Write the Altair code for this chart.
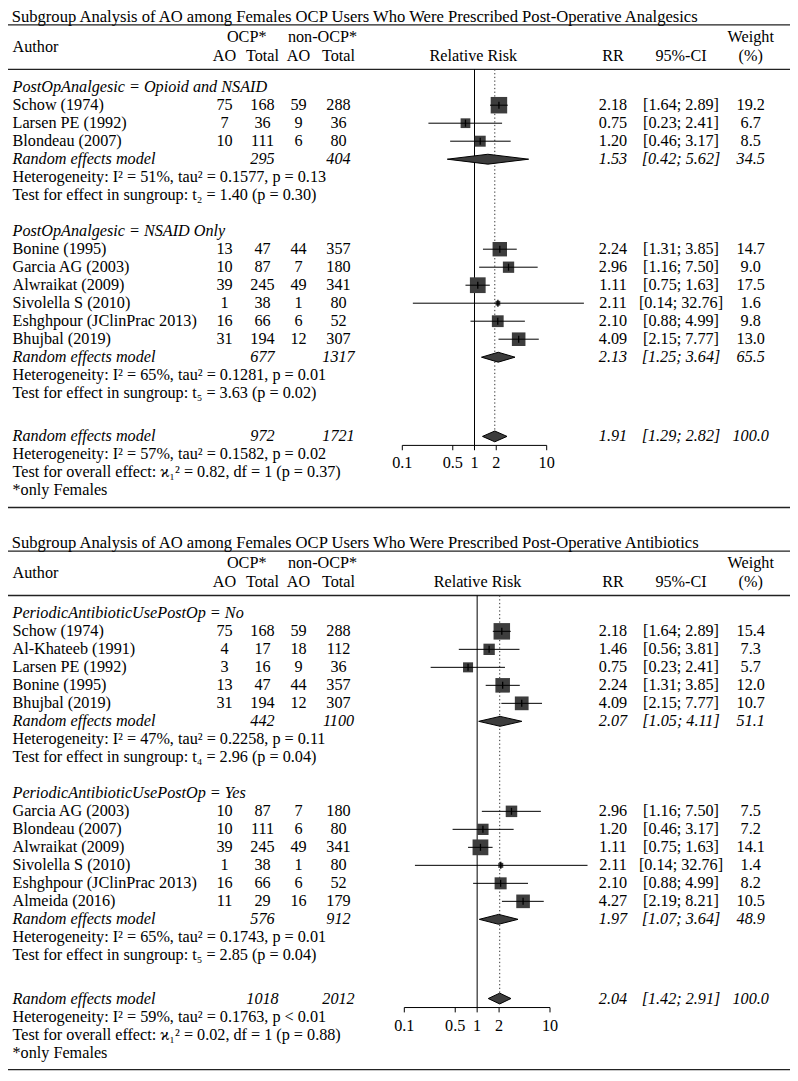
import altair as alt
import pandas as pd

FONT = "Liberation Serif"
FS = 16.2
TITLE_FS = 16.6

# ---------------- Panel 1 : post-operative analgesics ----------------
p1_title = "Subgroup Analysis of AO among Females OCP Users Who Were Prescribed Post-Operative Analgesics"
p1_subgroups = ["PostOpAnalgesic = Opioid and NSAID", "PostOpAnalgesic = NSAID Only"]
p1_authors = ["Schow (1974)", "Larsen PE (1992)", "Blondeau (2007)", "Bonine (1995)", "Garcia AG (2003)",
              "Alwraikat (2009)", "Sivolella S (2010)", "Eshghpour (JClinPrac 2013)", "Bhujbal (2019)"]
p1_group = [0, 0, 0, 1, 1, 1, 1, 1, 1]
p1_ocp_ao = [75, 7, 10, 13, 10, 39, 1, 16, 31]
p1_ocp_total = [168, 36, 111, 47, 87, 245, 38, 66, 194]
p1_non_ao = [59, 9, 6, 44, 7, 49, 1, 6, 12]
p1_non_total = [288, 36, 80, 357, 180, 341, 80, 52, 307]
p1_rr = [2.18, 0.75, 1.20, 2.24, 2.96, 1.11, 2.11, 2.10, 4.09]
p1_lo = [1.64, 0.23, 0.46, 1.31, 1.16, 0.75, 0.14, 0.88, 2.15]
p1_hi = [2.89, 2.41, 3.17, 3.85, 7.50, 1.63, 32.76, 4.99, 7.77]
p1_weight = [19.2, 6.7, 8.5, 14.7, 9.0, 17.5, 1.6, 9.8, 13.0]
p1_sub_ocp_total = [295, 677]
p1_sub_non_total = [404, 1317]
p1_sub_rr = [1.53, 2.13]
p1_sub_lo = [0.42, 1.25]
p1_sub_hi = [5.62, 3.64]
p1_sub_weight = [34.5, 65.5]
p1_sub_het = ["Heterogeneity: I² = 51%, tau² = 0.1577, p = 0.13",
              "Heterogeneity: I² = 65%, tau² = 0.1281, p = 0.01"]
p1_sub_test = ["Test for effect in sungroup: t₂ = 1.40 (p = 0.30)",
               "Test for effect in sungroup: t₅ = 3.63 (p = 0.02)"]
p1_overall = dict(ocp_total=972, non_total=1721, rr=1.91, lo=1.29, hi=2.82,
                  het="Heterogeneity: I² = 57%, tau² = 0.1582, p = 0.02",
                  test="Test for overall effect: ϰ₁² = 0.82, df = 1 (p = 0.37)")

# ---------------- Panel 2 : post-operative antibiotics ----------------
p2_title = "Subgroup Analysis of AO among Females OCP Users Who Were Prescribed Post-Operative Antibiotics"
p2_subgroups = ["PeriodicAntibioticUsePostOp = No", "PeriodicAntibioticUsePostOp = Yes"]
p2_authors = ["Schow (1974)", "Al-Khateeb (1991)", "Larsen PE (1992)", "Bonine (1995)", "Bhujbal (2019)",
              "Garcia AG (2003)", "Blondeau (2007)", "Alwraikat (2009)", "Sivolella S (2010)",
              "Eshghpour (JClinPrac 2013)", "Almeida (2016)"]
p2_group = [0, 0, 0, 0, 0, 1, 1, 1, 1, 1, 1]
p2_ocp_ao = [75, 4, 3, 13, 31, 10, 10, 39, 1, 16, 11]
p2_ocp_total = [168, 17, 16, 47, 194, 87, 111, 245, 38, 66, 29]
p2_non_ao = [59, 18, 9, 44, 12, 7, 6, 49, 1, 6, 16]
p2_non_total = [288, 112, 36, 357, 307, 180, 80, 341, 80, 52, 179]
p2_rr = [2.18, 1.46, 0.75, 2.24, 4.09, 2.96, 1.20, 1.11, 2.11, 2.10, 4.27]
p2_lo = [1.64, 0.56, 0.23, 1.31, 2.15, 1.16, 0.46, 0.75, 0.14, 0.88, 2.19]
p2_hi = [2.89, 3.81, 2.41, 3.85, 7.77, 7.50, 3.17, 1.63, 32.76, 4.99, 8.21]
p2_weight = [15.4, 7.3, 5.7, 12.0, 10.7, 7.5, 7.2, 14.1, 1.4, 8.2, 10.5]
p2_sub_ocp_total = [442, 576]
p2_sub_non_total = [1100, 912]
p2_sub_rr = [2.07, 1.97]
p2_sub_lo = [1.05, 1.07]
p2_sub_hi = [4.11, 3.64]
p2_sub_weight = [51.1, 48.9]
p2_sub_het = ["Heterogeneity: I² = 47%, tau² = 0.2258, p = 0.11",
              "Heterogeneity: I² = 65%, tau² = 0.1743, p = 0.01"]
p2_sub_test = ["Test for effect in sungroup: t₄ = 2.96 (p = 0.04)",
               "Test for effect in sungroup: t₅ = 2.85 (p = 0.04)"]
p2_overall = dict(ocp_total=1018, non_total=2012, rr=2.04, lo=1.42, hi=2.91,
                  het="Heterogeneity: I² = 59%, tau² = 0.1763, p < 0.01",
                  test="Test for overall effect: ϰ₁² = 0.02, df = 1 (p = 0.88)")

note_text = "*only Females"
axis_ticks = [0.1, 0.5, 1, 2, 10]
axis_labels = ["0.1", "0.5", "1", "2", "10"]

cells, studies, diamonds, vlines, hrules, axlines, axticks = [], [], [], [], [], [], []


def build(panel, off, title, subgroups, grp, authors, oa, ot, na, nt, rr, lo, hi, w,
          s_ot, s_nt, s_rr, s_lo, s_hi, s_w, s_het, s_test, ov):
    def add(text, r, col, style="n"):
        cells.append(dict(txt=text, rw=r + off, cl=col, st=style))

    add(title, -3.9, "title")
    add("Author", -2.25, "left")
    add("OCP*", -2.77, "h_ocp")
    add("non-OCP*", -2.77, "h_non")
    add("Weight", -2.77, "w")
    add("AO", -1.73, "ocp_ao")
    add("Total", -1.73, "ocp_tot")
    add("AO", -1.73, "non_ao")
    add("Total", -1.73, "non_tot")
    add("Relative Risk", -1.73, f"rrlab{panel}")
    add("RR", -1.73, "rr")
    add("95%-CI", -1.73, "ci")
    add("(%)", -1.73, "w")
    hrules.append(dict(rw=-3.46 + off))
    hrules.append(dict(rw=-0.99 + off))
    wmax = max(w)
    r = 0
    for g, name in enumerate(subgroups):
        add(name, r, "left", "i")
        r += 1
        for i in range(len(authors)):
            if grp[i] != g:
                continue
            add(authors[i], r, "left")
            add(str(oa[i]), r, "ocp_ao")
            add(str(ot[i]), r, "ocp_tot")
            add(str(na[i]), r, "non_ao")
            add(str(nt[i]), r, "non_tot")
            add(f"{rr[i]:.2f}", r, "rr")
            add(f"[{lo[i]:.2f}; {hi[i]:.2f}]", r, "ci")
            add(f"{w[i]:.1f}", r, "w")
            studies.append(dict(panel=panel, rw=r + off, rr=rr[i], lo=lo[i], hi=hi[i], wrel=w[i] / wmax))
            r += 1
        add("Random effects model", r, "left", "i")
        add(str(s_ot[g]), r, "ocp_tot", "i")
        add(str(s_nt[g]), r, "non_tot", "i")
        add(f"{s_rr[g]:.2f}", r, "rr", "i")
        add(f"[{s_lo[g]:.2f}; {s_hi[g]:.2f}]", r, "ci", "i")
        add(f"{s_w[g]:.1f}", r, "w", "i")
        did = f"{panel}-{g}"
        for xv, h in ((s_lo[g], 0.0), (s_rr[g], 0.275), (s_hi[g], 0.0)):
            diamonds.append(dict(panel=panel, id=did, x=xv, yt=r + off - h, yb=r + off + h))
        r += 1
        add(s_het[g], r, "left")
        r += 1
        add(s_test[g], r, "left")
        r += 2
    ro = r - 2 + 2.4
    add("Random effects model", ro, "left", "i")
    add(str(ov["ocp_total"]), ro, "ocp_tot", "i")
    add(str(ov["non_total"]), ro, "non_tot", "i")
    add(f"{ov['rr']:.2f}", ro, "rr", "i")
    add(f"[{ov['lo']:.2f}; {ov['hi']:.2f}]", ro, "ci", "i")
    add("100.0", ro, "w", "i")
    for xv, h in ((ov["lo"], 0.0), (ov["rr"], 0.3), (ov["hi"], 0.0)):
        diamonds.append(dict(panel=panel, id=f"{panel}-ov", x=xv, yt=ro + off - h, yb=ro + off + h))
    add(ov["het"], ro + 1, "left")
    add(ov["test"], ro + 2, "left")
    add(note_text, ro + 3, "left")
    hrules.append(dict(rw=ro + 3 + 0.95 + off))
    vlines.append(dict(panel=panel, kind="solid", x=1.0, y0=-0.99 + off, y1=ro + 0.5 + off))
    vlines.append(dict(panel=panel, kind="dot", x=ov["rr"], y0=-0.99 + off, y1=ro - 0.3 + off))
    axlines.append(dict(panel=panel, x0=axis_ticks[0], x1=axis_ticks[-1], rw=ro + 0.5 + off))
    for v, lab in zip(axis_ticks, axis_labels):
        axticks.append(dict(panel=panel, v=v, label=lab, rw=ro + 0.5 + off,
                            rw2=ro + 0.5 + 0.27 + off, lrw=ro + 1.5 + off))


build(1, 0.0, p1_title, p1_subgroups, p1_group, p1_authors, p1_ocp_ao, p1_ocp_total, p1_non_ao,
      p1_non_total, p1_rr, p1_lo, p1_hi, p1_weight, p1_sub_ocp_total, p1_sub_non_total, p1_sub_rr,
      p1_sub_lo, p1_sub_hi, p1_sub_weight, p1_sub_het, p1_sub_test, p1_overall)
build(2, 29.23, p2_title, p2_subgroups, p2_group, p2_authors, p2_ocp_ao, p2_ocp_total, p2_non_ao,
      p2_non_total, p2_rr, p2_lo, p2_hi, p2_weight, p2_sub_ocp_total, p2_sub_non_total, p2_sub_rr,
      p2_sub_lo, p2_sub_hi, p2_sub_weight, p2_sub_het, p2_sub_test, p2_overall)

cells_df = pd.DataFrame(cells)
studies_df = pd.DataFrame(studies)
diam_df = pd.DataFrame(diamonds)
vl_df = pd.DataFrame(vlines)
hr_df = pd.DataFrame(hrules)
ax_df = pd.DataFrame(axlines)
tk_df = pd.DataFrame(axticks)

PITCH = 18.0
TOP = 79.2
YS = alt.Scale(domain=[0, 50], range=[TOP, TOP + 50 * PITCH], nice=False, zero=False)
XR = {1: [394.3, 538.7], 2: [396.3, 542.0]}


def XS(p):
    return alt.Scale(type="log", domain=[0.1, 10], range=XR[p], nice=False)


col_pos = {
    "title": (3.7, "left"), "left": (4.5, "left"),
    "ocp_ao": (216.5, "center"), "ocp_tot": (254.5, "center"),
    "non_ao": (290.5, "center"), "non_tot": (330.5, "center"),
    "h_ocp": (238.7, "center"), "h_non": (314.5, "center"),
    "rrlab1": (465.3, "center"), "rrlab2": (469.5, "center"),
    "rr": (605.0, "center"), "ci": (673.0, "center"), "w": (742.7, "center"),
}

layers = []
layers.append(alt.Chart(hr_df).mark_rule(color="#222222", strokeWidth=1.3).encode(
    x=alt.value(0), x2=alt.value(782), y=alt.Y("rw:Q", scale=YS, axis=None)))

for col, (xp, al) in col_pos.items():
    for st in ("n", "i"):
        sub = cells_df[(cells_df.cl == col) & (cells_df.st == st)][["txt", "rw"]].reset_index(drop=True)
        if len(sub) == 0:
            continue
        layers.append(alt.Chart(sub).mark_text(
            align=al, baseline="middle", font=FONT,
            fontSize=TITLE_FS if col == "title" else FS,
            fontStyle="italic" if st == "i" else "normal", color="black").encode(
            x=alt.value(xp), y=alt.Y("rw:Q", scale=YS, axis=None), text="txt:N"))

for p in (1, 2):
    flt = f"datum.panel === {p}"
    layers.append(alt.Chart(vl_df).transform_filter(flt + " && datum.kind === 'solid'").mark_rule(
        color="black", strokeWidth=1).encode(
        x=alt.X("x:Q", scale=XS(p), axis=None), y=alt.Y("y0:Q", scale=YS, axis=None), y2="y1:Q"))
    layers.append(alt.Chart(vl_df).transform_filter(flt + " && datum.kind === 'dot'").mark_rule(
        color="#333333", strokeWidth=1, strokeDash=[1.3, 2.4]).encode(
        x=alt.X("x:Q", scale=XS(p), axis=None), y=alt.Y("y0:Q", scale=YS, axis=None), y2="y1:Q"))
    layers.append(alt.Chart(studies_df).transform_filter(flt).mark_square(
        color="#3d3d3d", opacity=1).encode(
        x=alt.X("rr:Q", scale=XS(p), axis=None), y=alt.Y("rw:Q", scale=YS, axis=None),
        size=alt.Size("wrel:Q", scale=alt.Scale(domain=[0, 1], range=[0, 272]), legend=None)))
    layers.append(alt.Chart(studies_df).transform_filter(flt).mark_rule(
        color="black", strokeWidth=1).encode(
        x=alt.X("lo:Q", scale=XS(p), axis=None), x2="hi:Q", y=alt.Y("rw:Q", scale=YS, axis=None)))
    layers.append(alt.Chart(studies_df).transform_filter(flt).mark_point(
        shape="M0,-1L0,1", size=49, color="black", strokeWidth=1.3, filled=False, opacity=1).encode(
        x=alt.X("rr:Q", scale=XS(p), axis=None), y=alt.Y("rw:Q", scale=YS, axis=None)))
    layers.append(alt.Chart(diam_df).transform_filter(flt).mark_area(
        color="#3d3d3d", stroke="black", strokeWidth=1, opacity=1).encode(
        x=alt.X("x:Q", scale=XS(p), axis=None), y=alt.Y("yt:Q", scale=YS, axis=None),
        y2="yb:Q", detail="id:N"))
    layers.append(alt.Chart(ax_df).transform_filter(flt).mark_rule(color="black", strokeWidth=1).encode(
        x=alt.X("x0:Q", scale=XS(p), axis=None), x2="x1:Q", y=alt.Y("rw:Q", scale=YS, axis=None)))
    layers.append(alt.Chart(tk_df).transform_filter(flt).mark_rule(color="black", strokeWidth=1).encode(
        x=alt.X("v:Q", scale=XS(p), axis=None), y=alt.Y("rw:Q", scale=YS, axis=None), y2="rw2:Q"))
    layers.append(alt.Chart(tk_df).transform_filter(flt).mark_text(
        font=FONT, fontSize=FS, color="black", baseline="middle").encode(
        x=alt.X("v:Q", scale=XS(p), axis=None), y=alt.Y("lrw:Q", scale=YS, axis=None), text="label:N"))

chart = alt.layer(*layers).resolve_scale(x="independent").properties(
    width=782, height=1063,
    padding=0,
    autosize=alt.AutoSizeParams(type="none"),
).configure_view(stroke=None)

chart.save("out.html", embed_options={"renderer": "svg", "actions": False})
